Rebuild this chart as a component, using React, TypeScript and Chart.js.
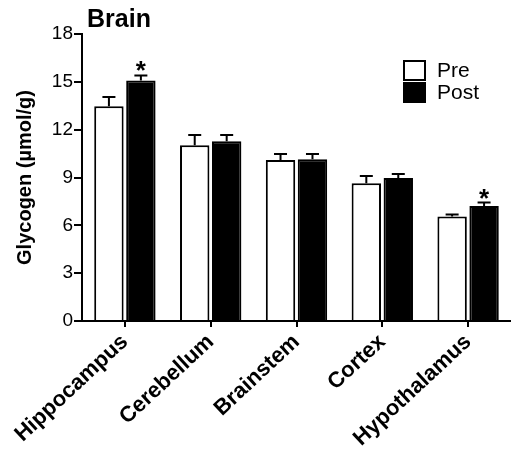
import React, { useEffect, useRef } from 'react';
import { Chart, registerables } from 'chart.js';

Chart.register(...registerables);

const categories = ['Hippocampus', 'Cerebellum', 'Brainstem', 'Cortex', 'Hypothalamus'];
const preValues = [13.47, 11.03, 10.09, 8.64, 6.55];
const preErrors = [0.58, 0.63, 0.38, 0.45, 0.13];
const postValues = [15.09, 11.28, 10.14, 8.97, 7.22];
const postErrors = [0.31, 0.38, 0.33, 0.25, 0.21];
const postSignificance = ['*', '', '', '', '*'];
const seriesLabels = ['Pre', 'Post'];
const chartTitle = 'Brain';
const yAxisTitle = 'Glycogen (\u00b5mol/g)';
const yMin = 0;
const yMax = 18;
const yStep = 3;

const FONT = '"Liberation Sans", Arial, Helvetica, sans-serif';

export default function App() {
  const ref = useRef<HTMLCanvasElement>(null);

  useEffect(() => {
    if (!ref.current) return;

    const extras = {
      id: 'extras',
      afterDatasetsDraw(chart: any) {
        const ctx = chart.ctx;
        const y = chart.scales.y;
        const area = chart.chartArea;
        ctx.save();
        ctx.strokeStyle = '#000';
        ctx.fillStyle = '#000';
        ctx.lineWidth = 2;
        const series = [
          { vals: preValues, errs: preErrors },
          { vals: postValues, errs: postErrors },
        ];
        series.forEach((s, di) => {
          const meta = chart.getDatasetMeta(di);
          meta.data.forEach((bar: any, j: number) => {
            const top = y.getPixelForValue(s.vals[j] + s.errs[j]);
            const half = 6.5;
            ctx.beginPath();
            ctx.moveTo(bar.x, bar.y);
            ctx.lineTo(bar.x, top);
            ctx.moveTo(bar.x - half, top);
            ctx.lineTo(bar.x + half, top);
            ctx.stroke();
            if (di === 1 && postSignificance[j]) {
              ctx.font = `bold 26px ${FONT}`;
              ctx.textAlign = 'center';
              ctx.textBaseline = 'alphabetic';
              ctx.fillText(postSignificance[j], bar.x, top + 4);
            }
          });
        });

        // Title
        ctx.font = `bold 25px ${FONT}`;
        ctx.textAlign = 'left';
        ctx.textBaseline = 'alphabetic';
        ctx.fillText(chartTitle, area.left + 5, 27);

        // Legend
        const lx = area.right - 108;
        const ly = area.top + 26;
        ctx.lineWidth = 2;
        ctx.fillStyle = '#fff';
        ctx.fillRect(lx + 1, ly + 1, 21, 19);
        ctx.strokeRect(lx + 1, ly + 1, 21, 19);
        ctx.fillStyle = '#000';
        ctx.fillRect(lx, ly + 22, 23, 21);
        ctx.font = `21px ${FONT}`;
        ctx.fillText(seriesLabels[0], lx + 34, ly + 17);
        ctx.fillText(seriesLabels[1], lx + 34, ly + 39);
        ctx.restore();
      },
    };

    const chart = new Chart(ref.current, {
      type: 'bar',
      data: {
        labels: categories,
        datasets: [
          {
            label: seriesLabels[0],
            data: preValues,
            backgroundColor: '#ffffff',
            borderColor: '#000000',
            borderWidth: 2,
            categoryPercentage: 0.745,
            barPercentage: 0.92,
          },
          {
            label: seriesLabels[1],
            data: postValues,
            backgroundColor: '#000000',
            borderColor: '#000000',
            borderWidth: 2,
            categoryPercentage: 0.745,
            barPercentage: 0.92,
          },
        ],
      },
      options: {
        animation: false,
        responsive: false,
        devicePixelRatio: 1,
        layout: { padding: { top: 34, left: 0, right: 0, bottom: 0 } },
        plugins: {
          legend: { display: false },
          tooltip: { enabled: false },
          title: { display: false },
        },
        scales: {
          x: {
            offset: true,
            afterFit(scale: any) {
              scale.height = 129;
            },
            grid: {
              display: true,
              offset: false,
              drawOnChartArea: false,
              drawTicks: true,
              color: '#000',
              lineWidth: 2,
              tickLength: 6,
            },
            border: { display: true, color: '#000', width: 2 },
            ticks: {
              color: '#000',
              minRotation: 43,
              maxRotation: 43,
              padding: 2,
              autoSkip: false,
              font: { family: FONT, size: 22, weight: 'bold' },
            },
          },
          y: {
            min: yMin,
            max: yMax,
            afterFit(scale: any) {
              scale.width = 82;
            },
            grid: {
              display: true,
              drawOnChartArea: false,
              drawTicks: true,
              color: '#000',
              lineWidth: 2,
              tickLength: 8,
            },
            border: { display: true, color: '#000', width: 2 },
            ticks: {
              stepSize: yStep,
              color: '#000',
              padding: 1,
              font: { family: FONT, size: 19 },
            },
            title: {
              display: true,
              text: yAxisTitle,
              color: '#000',
              padding: { top: 13, bottom: 0 },
              font: { family: FONT, size: 20, weight: 'bold' },
            },
          },
        },
      },
      plugins: [extras],
    } as any);

    return () => chart.destroy();
  }, []);

  return (
    <div style={{ position: 'fixed', left: 0, top: 0, width: 511, height: 450, background: '#fff' }}>
      <canvas ref={ref} width={511} height={450} style={{ display: 'block' }} />
    </div>
  );
}
